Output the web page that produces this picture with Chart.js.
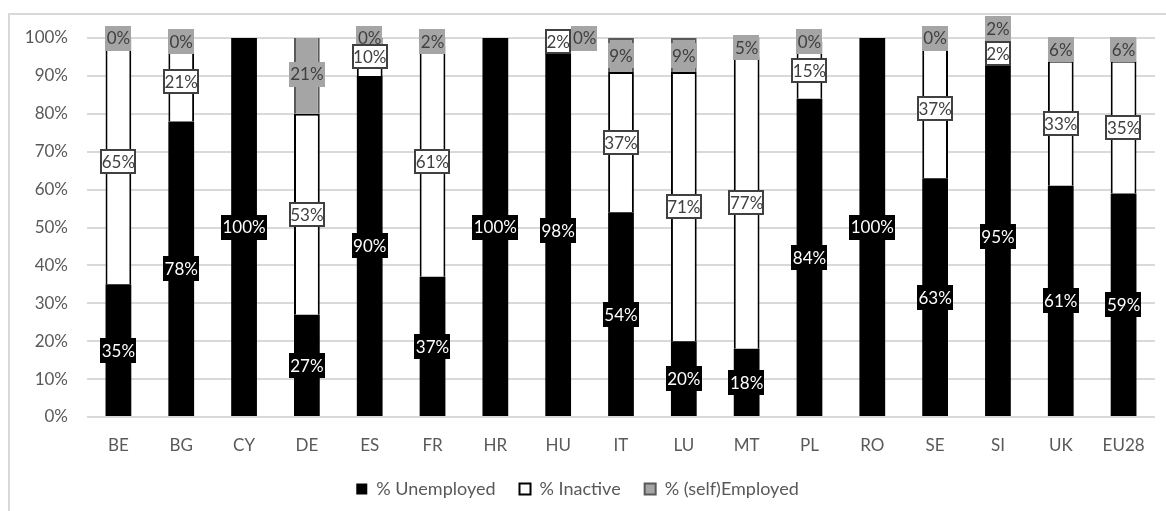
<!DOCTYPE html>
<html>
<head>
<meta charset="utf-8">
<title>Status of persons by country</title>
<script src="https://cdn.jsdelivr.net/npm/chart.js@4.4.1/dist/chart.umd.min.js"></script>
<style>
  html, body { margin: 0; padding: 0; background: #ffffff; }
  #wrap { width: 1166px; height: 511px; }
  canvas { display: block; }
</style>
</head>
<body>
<div id="wrap"><canvas id="chart" width="1166" height="511"></canvas></div>
<script>
// Countries on the category axis
const countries = ['BE', 'BG', 'CY', 'DE', 'ES', 'FR', 'HR', 'HU', 'IT', 'LU', 'MT', 'PL', 'RO', 'SE', 'SI', 'UK', 'EU28'];

// Shares per country, in percent (null = no value reported)
const unemployed   = [35, 78, 100, 27, 90, 37, 100, 98, 54, 20, 18, 84, 100, 63, 95, 61, 59];
const inactive     = [65, 21, null, 53, 10, 61, null, 2, 37, 71, 77, 15, null, 37, 2, 33, 35];
const selfEmployed = [0, 0, null, 21, 0, 2, null, 0, 9, 9, 5, 0, null, 0, 2, 6, 6];

// Value axis ticks
const yTicks = [0, 10, 20, 30, 40, 50, 60, 70, 80, 90, 100];

const seriesNames = ['% Unemployed', '% Inactive', '% (self)Employed'];

const FONT = 'Lato';
const TEXT_GREY = '#595959';
const LABEL_GREY = '#404040';

// Light frame around the whole chart, plus white background
const framePlugin = {
  id: 'frame',
  beforeDraw(chart) {
    const ctx = chart.ctx;
    ctx.save();
    ctx.fillStyle = '#ffffff';
    ctx.fillRect(0, 0, chart.width, chart.height);
    ctx.strokeStyle = '#d9d9d9';
    ctx.lineWidth = 2;
    ctx.beginPath();
    ctx.moveTo(9, chart.height);
    ctx.lineTo(9, 14);
    ctx.lineTo(chart.width, 14);
    ctx.stroke();
    ctx.restore();
  }
};

// Boxed value labels in the middle of each bar segment
const labelStyles = [
  { fill: '#000000', text: '#ffffff', stroke: null },
  { fill: '#ffffff', text: LABEL_GREY, stroke: LABEL_GREY },
  { fill: '#a5a5a5', text: LABEL_GREY, stroke: null }
];

const valueLabelPlugin = {
  id: 'valueLabels',
  afterDatasetsDraw(chart) {
    const ctx = chart.ctx;
    const h = 25;
    ctx.save();
    ctx.font = '17px ' + FONT;
    ctx.textAlign = 'center';
    ctx.textBaseline = 'middle';

    // compute label boxes for every dataset
    const boxes = chart.data.datasets.map((ds, di) => {
      const meta = chart.getDatasetMeta(di);
      return ds.data.map((v, i) => {
        if (v === null || v === undefined) return null;
        const el = meta.data[i];
        const text = v + '%';
        const w = ctx.measureText(text).width + 3;
        return { text, v, cx: el.x, cy: (el.y + el.base) / 2, w };
      });
    });

    // keep the top-segment label clear of the middle-segment label
    boxes[2].forEach((b, i) => {
      const m = boxes[1][i];
      if (!b || !m) return;
      if (Math.abs(b.cy - m.cy) < h / 2) {
        if (b.v === 0) {
          b.cx = m.cx + m.w / 2 + b.w / 2;
          b.cy = chart.scales.y.getPixelForValue(100);
        } else {
          b.cy = m.cy - h;
        }
      }
    });

    const drawOrder = [0, 2, 1];
    drawOrder.forEach(di => {
      const st = labelStyles[di];
      boxes[di].forEach(b => {
        if (!b) return;
        const x0 = Math.round(b.cx - b.w / 2);
        const y0 = Math.round(b.cy - h / 2);
        ctx.fillStyle = st.fill;
        ctx.fillRect(x0, y0, Math.round(b.w), h);
        if (st.stroke) {
          ctx.strokeStyle = st.stroke;
          ctx.lineWidth = 2;
          ctx.strokeRect(x0 + 1, y0 + 1, Math.round(b.w) - 2, h - 2);
        }
        ctx.fillStyle = st.text;
        ctx.fillText(b.text, b.cx, b.cy + 1);
      });
    });
    ctx.restore();
  }
};

function build() {
  new Chart(document.getElementById('chart'), {
    type: 'bar',
    data: {
      labels: countries,
      datasets: [
        {
          label: seriesNames[0],
          data: unemployed,
          backgroundColor: '#000000',
          borderColor: '#000000',
          borderWidth: 0
        },
        {
          label: seriesNames[1],
          data: inactive,
          backgroundColor: '#ffffff',
          borderColor: '#000000',
          borderWidth: 2
        },
        {
          label: seriesNames[2],
          data: selfEmployed,
          backgroundColor: '#a5a5a5',
          borderColor: '#595959',
          borderWidth: 2
        }
      ]
    },
    options: {
      responsive: false,
      animation: false,
      layout: { padding: { left: 0, top: 38, right: 11, bottom: 3 } },
      datasets: {
        bar: { categoryPercentage: 1, barPercentage: 0.41 }
      },
      scales: {
        x: {
          stacked: true,
          grid: { display: false, drawTicks: false },
          border: { display: false },
          ticks: {
            color: TEXT_GREY,
            font: { family: FONT, size: 17 },
            padding: 18,
            maxRotation: 0,
            autoSkip: false
          },
          afterFit(scale) { scale.height = 39; }
        },
        y: {
          stacked: true,
          min: 0,
          max: 100,
          afterBuildTicks(scale) { scale.ticks = yTicks.map(v => ({ value: v })); },
          grid: { color: '#d9d9d9', lineWidth: 2, drawTicks: false },
          border: { display: false },
          ticks: {
            color: TEXT_GREY,
            font: { family: FONT, size: 17 },
            padding: 19,
            callback: v => v + '%'
          },
          afterFit(scale) { scale.width = 87; }
        }
      },
      plugins: {
        legend: {
          position: 'bottom',
          labels: {
            boxWidth: 11,
            boxHeight: 11,
            padding: 24,
            color: TEXT_GREY,
            font: { family: FONT, size: 18 }
          }
        },
        tooltip: { enabled: false }
      }
    },
    plugins: [framePlugin, valueLabelPlugin]
  });
}

if (document.fonts && document.fonts.load) {
  Promise.all([document.fonts.load('17px ' + FONT), document.fonts.load('18px ' + FONT)]).then(build, build);
} else {
  build();
}
</script>
</body>
</html>
